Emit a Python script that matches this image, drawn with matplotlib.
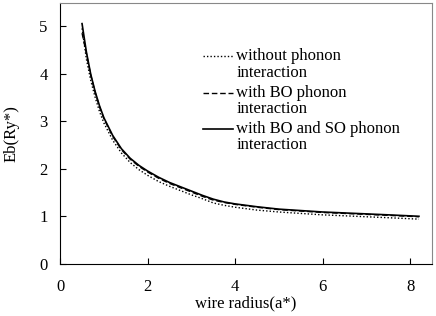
import numpy as np
from matplotlib import pyplot as plt

plt.rcParams['font.family'] = ['Liberation Serif', 'DejaVu Serif']

radius = [0.5, 0.6, 0.7, 0.8, 0.9, 1.0, 1.2, 1.4, 1.6, 1.8, 2.0, 2.25, 2.5, 2.75,
          3.0, 3.25, 3.5, 3.75, 4.0, 4.5, 5.0, 5.5, 6.0, 6.5, 7.0, 7.5, 8.2]
eb_none = [4.95, 4.30, 3.85, 3.50, 3.20, 2.96, 2.60, 2.33, 2.13, 1.98, 1.86, 1.73, 1.63, 1.54,
           1.45, 1.37, 1.28, 1.23, 1.19, 1.13, 1.09, 1.06, 1.03, 1.01, 0.99, 0.97, 0.94]
eb_bo = [4.85, 4.42, 3.96, 3.60, 3.30, 3.05, 2.68, 2.40, 2.20, 2.05, 1.93, 1.80, 1.69, 1.60,
         1.51, 1.42, 1.34, 1.29, 1.25, 1.19, 1.14, 1.11, 1.08, 1.06, 1.04, 1.02, 0.99]
eb_boso = [5.05, 4.45, 3.98, 3.62, 3.32, 3.07, 2.70, 2.42, 2.22, 2.07, 1.95, 1.82, 1.71, 1.62,
           1.53, 1.44, 1.36, 1.30, 1.26, 1.20, 1.15, 1.12, 1.09, 1.07, 1.05, 1.03, 1.00]

labels = ['without phonon\ninteraction',
          'with BO phonon\ninteraction',
          'with BO and SO phonon\ninteraction']
styles = [(0, (1, 1.5)), (0, (4, 2)), '-']
widths = [1.0, 1.0, 1.2]

fig = plt.figure(figsize=(4.36, 3.16), dpi=100)
ax = fig.add_axes([0.138, 0.165, 0.853, 0.825])

for yv, lab, ls, lw in zip([eb_none, eb_bo, eb_boso], labels, styles, widths):
    ax.plot(radius, yv, color='black', linestyle=ls, linewidth=lw, label=lab)

# legend drawn by hand: handle beside the first line of each label
entry_y = [0.796, 0.656, 0.518]
line_gap = 0.062
for y0, lab, ls, lw in zip(entry_y, labels, styles, widths):
    ax.plot([0.384, 0.465], [y0, y0], color='black', linestyle=ls, linewidth=lw,
            transform=ax.transAxes)
    for k, part in enumerate(lab.split('\n')):
        ax.text(0.474, y0 - k * line_gap, part, fontsize=12, va='center', ha='left',
                transform=ax.transAxes)

ax.set_xlim(0, 8.5)
ax.set_ylim(0, 5.48)
ax.set_xticks([0, 2, 4, 6, 8])
ax.set_yticks([0, 1, 2, 3, 4, 5])
ax.tick_params(direction='in', labelsize=12, length=4)
ax.tick_params(axis='x', pad=11)
ax.tick_params(axis='y', pad=9)
for s in ['top', 'right']:
    ax.spines[s].set_color('#888888')

ax.set_xlabel('wire radius(a*)', fontsize=12, labelpad=0)
ax.set_ylabel('Eb(Ry*)', fontsize=12, labelpad=14)

fig.savefig('out.png', dpi=100)
